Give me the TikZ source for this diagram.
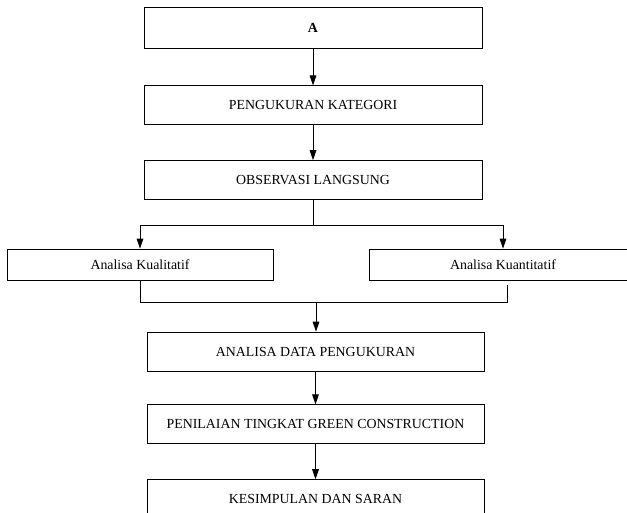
\documentclass[tikz,border=0pt]{standalone}
\usepackage{fontspec}
\setmainfont{Liberation Serif}
\usetikzlibrary{arrows.meta,positioning,calc}
\tikzset{
  blk/.style={draw,rectangle,line width=0.6pt,inner sep=0pt,align=center,
    minimum width=253.5pt,minimum height=29.25pt,font=\fontsize{10.4}{12}\selectfont},
  sideblk/.style={blk,minimum height=23.25pt},
  arr/.style={-{Triangle[length=7.5pt,width=5pt]},line width=0.6pt},
  ln/.style={line width=0.6pt}
}
\begin{document}
\begin{tikzpicture}[x=0.75pt,y=-0.75pt]
  \useasboundingbox (0,0) rectangle (627,513);
  \node[blk,minimum height=30.75pt] (a) at (313,27.5) {\textbf{A}};
  \node[blk, below=27.75pt of a] (peng) {PENGUKURAN KATEGORI};
  \node[blk, below=26.25pt of peng] (obs) {OBSERVASI LANGSUNG};
  \coordinate[below=18.75pt of obs] (split);
  \node[sideblk,minimum width=199.5pt] (kual) at (140,264.5) {Analisa Kualitatif};
  \node[sideblk,minimum width=201pt] (kuan) at (503,264.5) {Analisa Kuantitatif};
  \coordinate (mrg) at (316,302);
  \node[blk,minimum width=252.75pt] (ad) at (315.5,351.5) {ANALISA DATA PENGUKURAN};
  \node[blk,minimum width=252.75pt, below=24.75pt of ad] (pen) {PENILAIAN TINGKAT GREEN CONSTRUCTION};
  \node[blk,minimum width=252.75pt, below=26.25pt of pen] (kes) {KESIMPULAN DAN SARAN};

  \draw[arr] (a)--(peng);
  \draw[arr] (peng)--(obs);
  \draw[ln] (obs)--(split);
  \draw[arr] (split) -| (kual);
  \draw[arr] (split) -| (kuan);
  \draw[ln] (kual.south) |- (mrg);
  \draw[ln] ($(kuan.south)+(4,5)$) |- (mrg);
  \draw[arr] (mrg) -- (mrg |- ad.north);
  \draw[arr] (ad)--(pen);
  \draw[arr] (pen)--(kes);
\end{tikzpicture}
\end{document}
